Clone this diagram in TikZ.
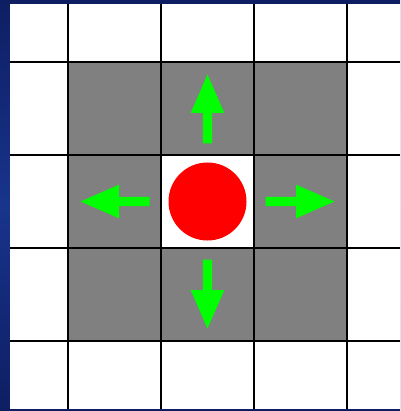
\documentclass[tikz,border=0pt]{standalone}
\usetikzlibrary{calc}
\definecolor{navy}{RGB}{14,30,98}
\definecolor{navylight}{RGB}{24,52,140}
\definecolor{cellgray}{RGB}{128,128,128}
\definecolor{arrowgreen}{RGB}{0,255,0}
\tikzset{
  gridline/.style={black, line width=1.4pt},
  centerline/.style={black, line width=2pt},
  blockarrow/.style={fill=arrowgreen, draw=none},
}
\begin{document}
\begin{tikzpicture}[x=1pt,y=-1pt]
\useasboundingbox (0,0) rectangle (400,411);
% background
\shade[top color=navy, bottom color=navy, middle color=navylight] (0,0) rectangle (400,411);
\fill[navy] (0,0) rectangle (400,4);
\fill[white] (10,4) rectangle (400,409);
% gray ring
\fill[cellgray] (68,62) rectangle (347,341);
\fill[white] (161,155) rectangle (254,248);
% grid
\foreach \x in {68,161,254,347} \draw[gridline] (\x,4) -- (\x,409);
\foreach \y in {62,155,248,341} \draw[gridline] (10,\y) -- (400,\y);
\draw[centerline] (161,155) rectangle (254,248);
% circle
\coordinate (c) at (207.5,201.5);
\fill[red] (c) circle[radius=39];
% arrows
\foreach \a in {0,90,180,270}{
  \fill[blockarrow, rotate around={\a:(c)}]
    ($(c)+(58,-4.6)$) -- ($(c)+(88.5,-4.6)$) -- ($(c)+(88.5,-16.8)$) --
    ($(c)+(127,0)$) -- ($(c)+(88.5,16.8)$) -- ($(c)+(88.5,4.6)$) --
    ($(c)+(58,4.6)$) -- cycle;
}
\end{tikzpicture}
\end{document}
